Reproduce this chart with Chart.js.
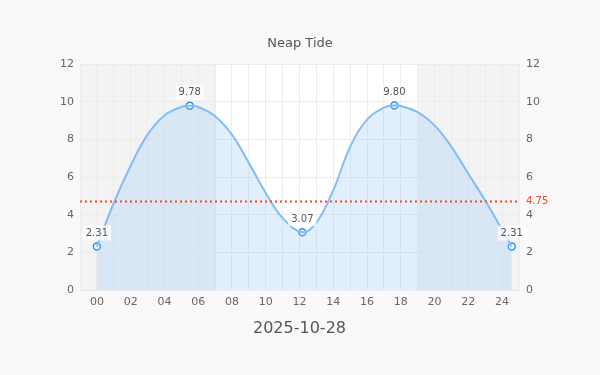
<!DOCTYPE html>
<html><head><meta charset="utf-8">
<script src="https://cdn.jsdelivr.net/npm/chart.js@4/dist/chart.umd.min.js"></script>
<style>html,body{margin:0;padding:0;background:#f9f9f9;}#wrap{width:600px;height:375px;}</style>
</head><body><div id="wrap"><canvas id="c"></canvas></div>
<script>
const chartTitle = "Neap Tide";
const dateLabel = "2025-10-28";
// high / low water markers
const extremeHours = [0, 5.5, 12.17, 17.62, 24.57];
const extremeHeights = [2.31, 9.78, 3.07, 9.80, 2.31];
// tide curve
const curveHours = [0, 1, 2, 3, 4, 5, 5.5, 6, 7, 8, 9, 10, 11, 12.17, 13, 14, 15, 16, 17, 17.62, 18, 19, 20, 21, 22, 23, 24, 24.57];
const curveHeights = [2.31, 4.62, 6.6, 8.25, 9.27, 9.72, 9.78, 9.72, 9.23, 8.25, 6.75, 5.15, 3.82, 3.07, 3.58, 5.3, 7.6, 9.05, 9.68, 9.80, 9.77, 9.44, 8.74, 7.6, 6.17, 4.75, 3.2, 2.31];
const nightStart = [-1, 19.03];
const nightEnd = [7.05, 25];
const refLevel = 4.75;
const xMin = -1, xMax = 25;
const yMin = 0, yMax = 12;

const FONT = "'DejaVu Sans', Verdana, sans-serif";

const overlay = {
  id: 'overlay',
  beforeDraw(chart) {
    const {ctx, chartArea: a, scales: {x}} = chart;
    ctx.save();
    ctx.fillStyle = '#ffffff';
    ctx.fillRect(a.left, a.top, a.right - a.left, a.bottom - a.top);
    ctx.fillStyle = '#f3f3f3';
    for (let i = 0; i < nightStart.length; i++) {
      const x0 = Math.max(a.left, x.getPixelForValue(nightStart[i]));
      const x1 = Math.min(a.right, x.getPixelForValue(nightEnd[i]));
      ctx.fillRect(x0, a.top, x1 - x0, a.bottom - a.top);
    }
    ctx.restore();
  },
  afterDatasetsDraw(chart) {
    const {ctx, chartArea: a, scales: {y}} = chart;
    ctx.save();
    const yy = Math.round(y.getPixelForValue(refLevel)) + 0.5;
    ctx.strokeStyle = '#ff4422';
    ctx.lineWidth = 2;
    ctx.setLineDash([2, 3]);
    ctx.beginPath(); ctx.moveTo(a.left, yy); ctx.lineTo(a.right, yy); ctx.stroke();
    ctx.setLineDash([]);
    ctx.fillStyle = '#ff4422';
    ctx.font = '10px ' + FONT;
    ctx.textBaseline = 'middle';
    ctx.textAlign = 'left';
    ctx.fillText(refLevel.toFixed(2), a.right + 7, yy);
    const meta = chart.getDatasetMeta(1);
    ctx.font = '10px ' + FONT;
    ctx.textAlign = 'center';
    meta.data.forEach((pt, i) => {
      const t = extremeHeights[i].toFixed(2);
      const w = ctx.measureText(t).width + 6;
      const cy = pt.y - 13;
      ctx.fillStyle = 'rgba(255,255,255,0.75)';
      ctx.fillRect(pt.x - w / 2, cy - 8, w, 15);
      ctx.fillStyle = '#555';
      ctx.fillText(t, pt.x, cy);
    });
    ctx.restore();
  }
};

new Chart(document.getElementById('c'), {
  type: 'line',
  data: {
    datasets: [{
      data: curveHours.map((h, i) => ({x: h, y: curveHeights[i]})),
      borderColor: '#82bdf6',
      borderWidth: 2,
      backgroundColor: 'rgba(150,200,248,0.28)',
      fill: 'origin',
      tension: 0.4,
      pointRadius: 0
    }, {
      data: extremeHours.map((h, i) => ({x: h, y: extremeHeights[i]})),
      showLine: false,
      fill: false,
      pointRadius: 3.5,
      pointBorderWidth: 1.5,
      pointBackgroundColor: '#ffffff',
      pointBorderColor: '#2e8ef0'
    }]
  },
  options: {
    responsive: true,
    maintainAspectRatio: false,
    animation: false,
    layout: {padding: 0},
    plugins: {
      legend: {display: false},
      tooltip: {enabled: false},
      title: {display: true, text: chartTitle, color: '#555', font: {family: FONT, size: 13, weight: 'normal'}, padding: {top: 36, bottom: 12.4}}
    },
    scales: {
      x: {
        type: 'linear', min: xMin, max: xMax,
        afterFit(s) { s.height = 85; },
        grid: {color: '#ececec', drawTicks: false},
        border: {display: false},
        ticks: {
          stepSize: 1, autoSkip: false, maxRotation: 0, padding: 6,
          color: '#666', font: {family: FONT, size: 11},
          callback: v => (v >= 0 && v <= 24 && v % 2 === 0) ? String(v).padStart(2, '0') : ''
        },
        title: {display: true, text: dateLabel, color: '#555', font: {family: FONT, size: 16}, padding: {top: 10, bottom: 37}}
      },
      y: {
        min: yMin, max: yMax, position: 'left',
        afterFit(s) { s.width = 80; },
        grid: {color: '#ececec', drawTicks: false},
        border: {display: false},
        ticks: {stepSize: 2, padding: 6, color: '#666', font: {family: FONT, size: 11}}
      },
      y2: {
        min: yMin, max: yMax, position: 'right',
        afterFit(s) { s.width = 81; },
        grid: {drawOnChartArea: false, drawTicks: false},
        border: {display: false},
        ticks: {stepSize: 2, padding: 7, color: '#666', font: {family: FONT, size: 11}}
      }
    }
  },
  plugins: [overlay]
});
</script></body></html>
